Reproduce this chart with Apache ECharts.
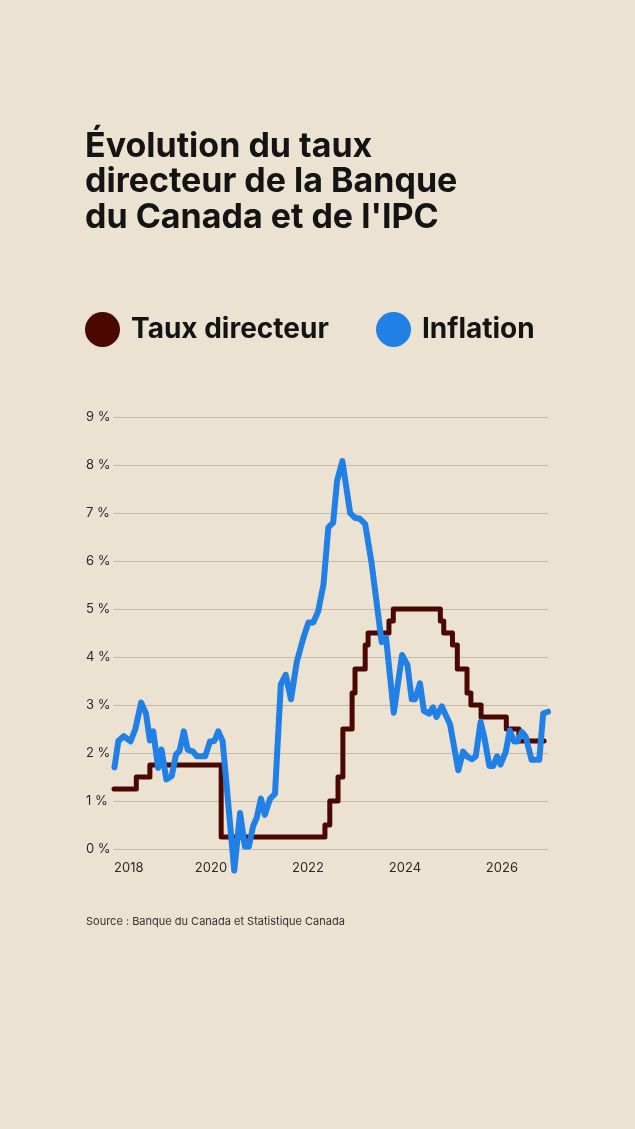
<!DOCTYPE html>
<html>
<head>
<meta charset="utf-8">
<style>
  html, body { margin: 0; padding: 0; background: #ece2d2; }
  #chart { width: 635px; height: 1129px; }
</style>
<script src="https://cdn.jsdelivr.net/npm/echarts@6/dist/echarts.min.js"></script>
</head>
<body>
<div id="chart"></div>
<script>
const titleLines = ['Évolution du taux', 'directeur de la Banque', "du Canada et de l'IPC"]
const seriesNames = ['Taux directeur', 'Inflation']
const sourceText = 'Source : Banque du Canada et Statistique Canada'

// taux directeur : date (année décimale) du changement, nouveau taux
const rateDates = [2018.0, 2018.46, 2018.74, 2020.21, 2022.35, 2022.45, 2022.62, 2022.72, 2022.91, 2022.97,
  2023.18, 2023.24, 2023.67, 2023.76, 2024.73, 2024.80, 2024.98, 2025.08, 2025.28, 2025.36,
  2025.57, 2026.09, 2026.35, 2026.87]
const rateValues = [1.25, 1.5, 1.75, 0.25, 0.5, 1.0, 1.5, 2.5, 3.25, 3.75,
  4.25, 4.5, 4.75, 5.0, 4.75, 4.5, 4.25, 3.75, 3.25, 3.0,
  2.75, 2.5, 2.25, 2.25]

// inflation (IPC, %)
const cpiDates = [2018.01, 2018.09, 2018.20, 2018.34, 2018.44, 2018.56, 2018.66, 2018.74, 2018.81, 2018.91,
  2018.98, 2019.08, 2019.19, 2019.28, 2019.35, 2019.44, 2019.52, 2019.63, 2019.71, 2019.88,
  2019.98, 2020.07, 2020.15, 2020.24, 2020.48, 2020.60, 2020.70, 2020.78, 2020.87, 2020.94,
  2021.03, 2021.11, 2021.22, 2021.32, 2021.44, 2021.54, 2021.65, 2021.77, 2021.90, 2022.01,
  2022.11, 2022.21, 2022.32, 2022.42, 2022.52, 2022.60, 2022.71, 2022.87, 2022.97, 2023.07,
  2023.18, 2023.31, 2023.52, 2023.61, 2023.77, 2023.94, 2024.05, 2024.14, 2024.21, 2024.31,
  2024.39, 2024.50, 2024.58, 2024.65, 2024.76, 2024.93, 2025.10, 2025.20, 2025.28, 2025.38,
  2025.46, 2025.56, 2025.64, 2025.74, 2025.82, 2025.90, 2025.97, 2026.08, 2026.16, 2026.25,
  2026.32, 2026.41, 2026.49, 2026.61, 2026.77, 2026.85, 2026.95]
const cpiValues = [1.7, 2.25, 2.35, 2.24, 2.5, 3.05, 2.82, 2.26, 2.45, 1.69,
  2.07, 1.45, 1.52, 1.97, 2.04, 2.45, 2.07, 2.03, 1.93, 1.93,
  2.24, 2.25, 2.45, 2.25, -0.45, 0.75, 0.05, 0.05, 0.48, 0.64,
  1.05, 0.71, 1.05, 1.15, 3.43, 3.63, 3.12, 3.9, 4.38, 4.72,
  4.72, 4.95, 5.51, 6.7, 6.8, 7.67, 8.08, 7.0, 6.9, 6.88,
  6.77, 5.97, 4.31, 4.4, 2.84, 4.04, 3.84, 3.12, 3.12, 3.45,
  2.88, 2.82, 2.95, 2.75, 2.97, 2.6, 1.64, 2.03, 1.93, 1.87,
  1.93, 2.65, 2.31, 1.73, 1.73, 1.93, 1.76, 2.03, 2.47, 2.24,
  2.24, 2.44, 2.34, 1.86, 1.86, 2.82, 2.86]

const xMin = 2018
const xMax = 2026.95
const yMax = 9

const rateColor = '#4a0800'
const cpiColor = '#2180e6'
const font = 'Inter, "Noto Sans", sans-serif'

const chart = echarts.init(document.getElementById('chart'))
const legendText = { fontFamily: font, fontSize: 28, fontWeight: 'bold', color: '#141414', padding: [0, 0, 0, 6] }
const option = {
  backgroundColor: '#ece2d2',
  animation: false,
  textStyle: { fontFamily: font },
  title: [
    {
      text: titleLines.join('\n'),
      left: 80,
      top: 124,
      textStyle: {
        fontFamily: font,
        fontSize: 34,
        fontWeight: 'bold',
        lineHeight: 35.5,
        color: '#141414'
      }
    },
    {
      text: sourceText,
      left: 81,
      top: 911,
      textStyle: {
        fontFamily: font,
        fontSize: 11,
        fontWeight: 'normal',
        color: '#333'
      }
    }
  ],
  legend: [
    {
      data: [seriesNames[0]],
      left: 80,
      top: 307,
      icon: 'circle',
      itemWidth: 35,
      itemHeight: 35,
      textStyle: legendText
    },
    {
      data: [seriesNames[1]],
      left: 371,
      top: 307,
      icon: 'circle',
      itemWidth: 35,
      itemHeight: 35,
      textStyle: legendText
    }
  ],
  grid: {
    left: 114,
    right: 87,
    top: 417,
    bottom: 280
  },
  xAxis: {
    type: 'value',
    min: xMin,
    max: xMax,
    interval: 2,
    axisLine: { show: false },
    axisTick: { show: false },
    splitLine: { show: false },
    axisLabel: {
      color: '#2a2a2a',
      fontSize: 13,
      margin: 13,
      alignMinLabel: 'left',
      showMaxLabel: false,
      formatter: v => String(v)
    }
  },
  yAxis: {
    type: 'value',
    min: 0,
    max: yMax,
    interval: 1,
    axisLine: { show: false },
    axisTick: { show: false },
    splitLine: { lineStyle: { color: '#c3baad', width: 1.2 } },
    axisLabel: {
      color: '#2a2a2a',
      fontSize: 13,
      align: 'left',
      margin: 28,
      verticalAlign: 'middle',
      padding: [0, 0, 10, 0],
      formatter: '{value} %'
    }
  },
  series: [
    {
      name: seriesNames[0],
      type: 'line',
      step: 'end',
      clip: false,
      data: rateDates.map((d, i) => [d, rateValues[i]]),
      showSymbol: false,
      symbol: 'circle',
      color: rateColor,
      lineStyle: { width: 5, color: rateColor, cap: 'round', join: 'round' },
      emphasis: { disabled: true }
    },
    {
      name: seriesNames[1],
      type: 'line',
      clip: false,
      data: cpiDates.map((d, i) => [d, cpiValues[i]]),
      showSymbol: false,
      symbol: 'circle',
      color: cpiColor,
      lineStyle: { width: 6, color: cpiColor, cap: 'round', join: 'round' },
      emphasis: { disabled: true }
    }
  ]
}
chart.setOption(option)
</script>
</body>
</html>
